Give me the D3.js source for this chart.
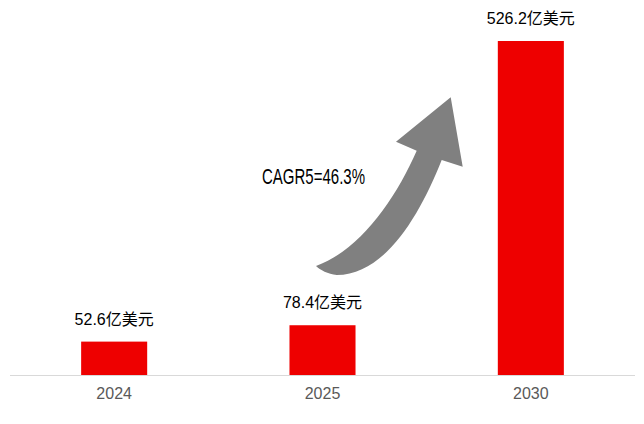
<!DOCTYPE html>
<html>
<head>
<meta charset="utf-8">
<script src="https://cdn.jsdelivr.net/npm/d3@7"></script>
<style>
  body { margin: 0; background: #fff; }
  text { font-family: "Liberation Sans", Arial, "Noto Sans CJK SC", sans-serif; }
</style>
</head>
<body>
<div id="chart"></div>
<script>
const years = ["2024", "2025", "2030"];
const values = [52.6, 78.4, 526.2];
const unit = "亿美元";
const cagrLabel = "CAGR5=46.3%";

const width = 644, height = 424;
const baseY = 375;

const svg = d3.select("#chart")
.append("svg")
.attr("width", width)
.attr("height", height);

const xScale = d3.scaleBand()
.domain(years)
.range([10, 635])
.paddingInner(0.683)
.paddingOuter(0.3415);

const yScale = d3.scaleLinear()
.domain([0, d3.max(values)])
.range([baseY, 41]);

// bars
svg.selectAll(".bar")
    .data(values)
    .join("rect")
    .attr("class", "bar")
    .attr("x", (d, i) => xScale(years[i]))
    .attr("y", d => yScale(d))
    .attr("width", xScale.bandwidth())
    .attr("height", d => baseY - yScale(d))
    .attr("fill", "#EE0000");

// value labels
svg.selectAll(".val")
    .data(values)
    .join("text")
    .attr("class", "val")
    .attr("x", (d, i) => xScale(years[i]) + xScale.bandwidth() / 2)
    .attr("y", d => yScale(d) - 17)
    .attr("text-anchor", "middle")
    .attr("font-size", 16)
    .attr("fill", "#000")
    .text(d => d.toFixed(1) + unit);

// x axis
const xAxis = svg.append("g")
    .attr("transform", `translate(0,${baseY})`)
    .call(d3.axisBottom(xScale).tickSize(0).tickPadding(13));
xAxis.select(".domain").attr("stroke", "#D9D9D9").attr("d", "M10,0.5H635");
xAxis.selectAll("text")
    .attr("font-size", 16)
    .attr("fill", "#595959")
    .attr("font-family", "Liberation Sans, Arial, sans-serif");

// growth arrow (annotation)
const arrow = d3.path();
arrow.moveTo(316, 266);
arrow.bezierCurveTo(360, 250, 395, 200, 416.7, 150.7);
arrow.lineTo(396, 141.7);
arrow.lineTo(450.7, 97.3);
arrow.lineTo(462.7, 166.7);
arrow.lineTo(441.7, 160);
arrow.bezierCurveTo(420, 215, 385, 275, 336.7, 275);
arrow.bezierCurveTo(328, 274, 320, 270, 316, 266);
arrow.closePath();
svg.append("path")
    .attr("d", arrow.toString())
    .attr("fill", "#808080");

svg.append("text")
    .attr("x", 262)
    .attr("y", 184)
    .attr("font-size", 22)
    .attr("textLength", 103)
    .attr("lengthAdjust", "spacingAndGlyphs")
    .attr("fill", "#000")
    .text(cagrLabel);
</script>
</body>
</html>
